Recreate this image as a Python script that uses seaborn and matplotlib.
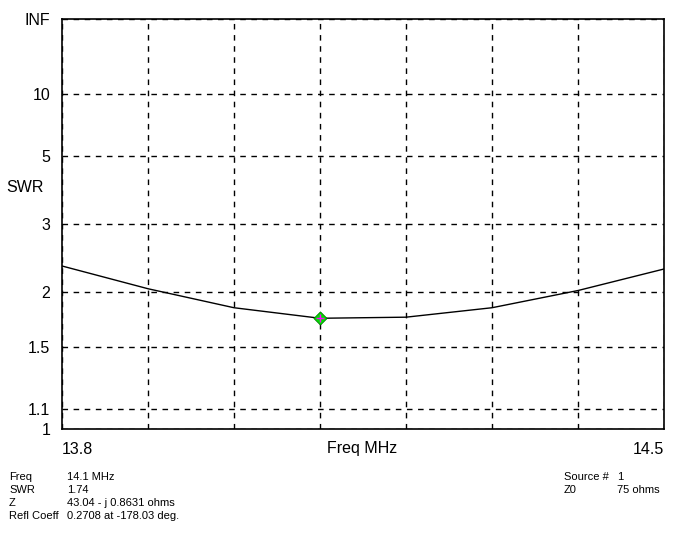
import numpy as np
import pandas as pd
import seaborn as sns
import matplotlib
matplotlib.use("Agg")
import matplotlib.pyplot as plt

# SWR sweep
freq_mhz = [13.8, 13.9, 14.0, 14.1, 14.2, 14.3, 14.4, 14.5]
swr = [2.32, 2.04, 1.84, 1.74, 1.75, 1.84, 2.02, 2.28]

# cursor
cursor_freq = [14.1]
cursor_swr = [1.74]

swr_ticks = [1, 1.1, 1.5, 2, 3, 5, 10, 1e12]   # 1e12 stands in for INF
swr_tick_labels = ["1", "1.1", "1.5", "2", "3", "5", "10", "INF"]
freq_ticks = [13.8, 13.9, 14.0, 14.1, 14.2, 14.3, 14.4, 14.5]
freq_tick_labels = ["13.8", "", "", "", "", "", "", "14.5"]

info_left = [("Freq", "14.1 MHz"), ("SWR", "1.74"),
             ("Z", "43.04 - j 0.8631 ohms"),
             ("Refl Coeff", "0.2708 at -178.03 deg.")]
info_right = [("Source #", "1"), ("Z0", "75 ohms")]

df = pd.DataFrame({"freq": freq_mhz, "swr": swr})
df_cur = pd.DataFrame({"freq": cursor_freq, "swr": cursor_swr})

sns.set_style("white")
plt.rcParams["font.family"] = ["Liberation Sans", "DejaVu Sans"]
plt.rcParams["text.color"] = "black"
plt.rcParams["axes.labelcolor"] = "black"
plt.rcParams["xtick.color"] = "black"
plt.rcParams["ytick.color"] = "black"

W, H = 695, 534
fig = plt.figure(figsize=(W / 100, H / 100), dpi=100)
ax = fig.add_axes([62 / W, (H - 429) / H, (664 - 62) / W, (429 - 19) / H])

# reflection-coefficient scale: rho = (s-1)/(s+1)
def fwd(s):
    s = np.asarray(s, dtype=float)
    with np.errstate(divide="ignore", invalid="ignore"):
        return (s - 1) / (s + 1)

def inv(r):
    r = np.asarray(r, dtype=float)
    with np.errstate(divide="ignore", invalid="ignore"):
        return (1 + r) / (1 - r)

ax.set_yscale("function", functions=(fwd, inv))

sns.lineplot(data=df, x="freq", y="swr", ax=ax, color="black", lw=1.0)
sns.scatterplot(data=df_cur, x="freq", y="swr", ax=ax, marker="D", s=45,
                color="#00e000", edgecolor="#008000", linewidth=0.6, zorder=5)
sns.scatterplot(data=df_cur, x="freq", y="swr", ax=ax, marker="+", s=40,
                color="#ff00ff", linewidth=1.0, zorder=6)

ax.set_xlim(13.8, 14.5)
ax.set_ylim(1, 1e12)
ax.set_xticks(freq_ticks)
ax.set_xticklabels(freq_tick_labels, fontsize=11.5)
ax.set_yticks(swr_ticks)
ax.set_yticklabels(swr_tick_labels, fontsize=11.5)
ax.minorticks_off()
ax.tick_params(axis="y", length=0, pad=8.5, labelcolor="black")
ax.tick_params(axis="x", length=0, pad=9, labelcolor="black")
labs = ax.get_xticklabels()
labs[0].set_horizontalalignment("left")
labs[-1].set_horizontalalignment("right")

ax.grid(True, color="black", linestyle=(0, (4, 4)), linewidth=1.0)
for sp in ax.spines.values():
    sp.set_visible(True)
    sp.set_color("black")
    sp.set_linewidth(1.2)

ax.set_xlabel("Freq MHz", fontsize=11.5, color="black")
ax.xaxis.set_label_coords(0.498, -0.047)
ax.xaxis.label.set_va("center")
ax.set_ylabel("SWR", fontsize=11.5, rotation=0, color="black")
ax.yaxis.set_label_coords(-0.062, 0.588)
ax.yaxis.label.set_va("center")

rows_y = [477, 490, 503, 516]
for (k, v), y in zip(info_left, rows_y):
    fig.text(9 / W, (H - y) / H, k, fontsize=8, va="center", color="black")
    fig.text(67 / W, (H - y) / H, v, fontsize=8, va="center", color="black")
for (k, v), y in zip(info_right, rows_y):
    fig.text(564 / W, (H - y) / H, k, fontsize=8, va="center", color="black")
    fig.text(617 / W, (H - y) / H, v, fontsize=8, va="center", color="black")

fig.savefig("out.png", dpi=100, facecolor="white")
